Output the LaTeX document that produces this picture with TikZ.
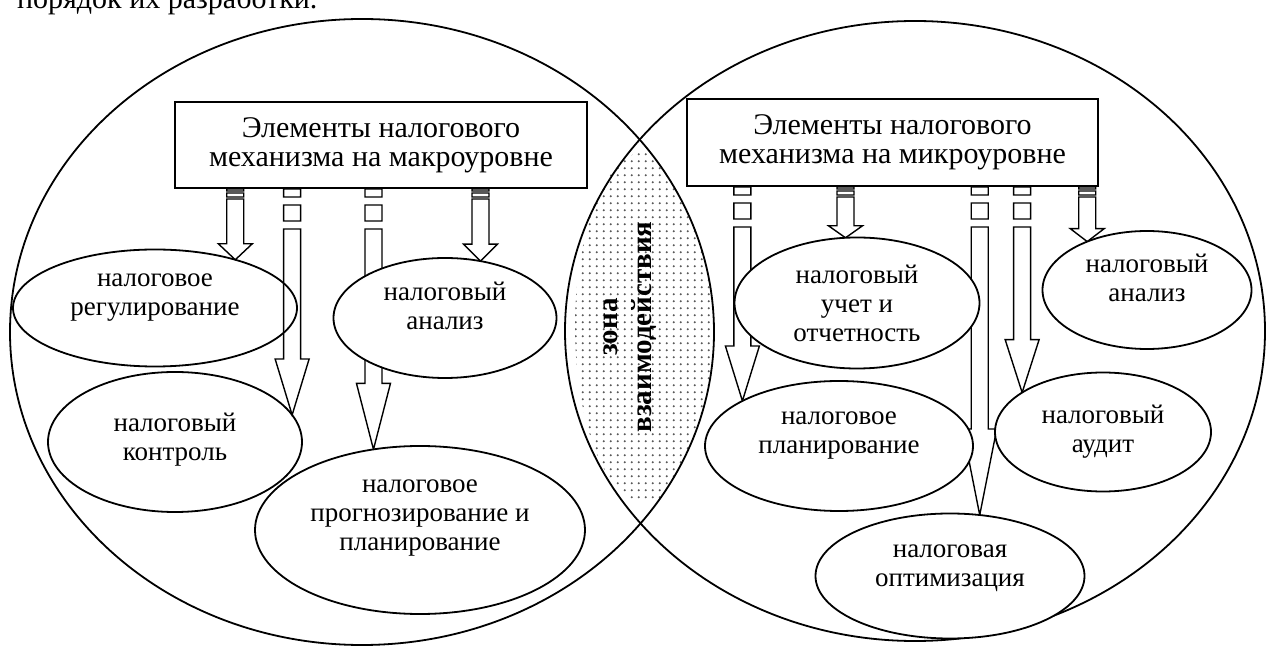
\documentclass[tikz,border=0pt]{standalone}
\usepackage{fontspec}
\setmainfont{Liberation Serif}
\usetikzlibrary{shapes.geometric,patterns,calc}

\pgfdeclarelayer{low}
\pgfdeclarelayer{mid}
\pgfsetlayers{low,mid,main}

% grey dots for the zone of interaction
\pgfdeclarepatternformonly{zonedots}{\pgfqpoint{0pt}{0pt}}{\pgfqpoint{3.5pt}{3.5pt}}{\pgfqpoint{3.5pt}{3.5pt}}{%
  \pgfpathcircle{\pgfqpoint{1pt}{1pt}}{0.7pt}\pgfusepath{fill}}

% block arrow with two stripes at its tail, from a box down to a point on an ellipse
\newcommand{\stripedarrow}[4]{%
  \draw[a] let \p1=(#1.south), \p2=(#2) in
    ({\x2-4.25pt},{\y1}) rectangle ({\x2+4.25pt},{\y1-#4*4pt})
    ({\x2-4.25pt},{\y1-#4*8pt}) rectangle ({\x2+4.25pt},{\y1-#4*16pt})
    ({\x2-4.25pt},{\y1-#4*20pt}) -- ({\x2-4.25pt},{\y2+#3}) -- ({\x2-8.5pt},{\y2+#3})
    -- (\p2) -- ({\x2+8.5pt},{\y2+#3}) -- ({\x2+4.25pt},{\y2+#3})
    -- ({\x2+4.25pt},{\y1-#4*20pt}) -- cycle;
}

\begin{document}
\begin{tikzpicture}[x=0.5pt,y=-0.5pt,font=\fontsize{13.5}{14.5}\selectfont]
	\tikzstyle{e}=[ellipse, draw, fill=white, line width=0.9pt, inner sep=0pt, outer sep=0pt]
	\tikzstyle{t}=[align=center, inner sep=0pt]
	\tikzstyle{b}=[rectangle, draw, fill=white, line width=1pt, align=center, font=\fontsize{15}{14.5}\selectfont]
	\tikzstyle{a}=[draw, line width=0.7pt, line join=miter]
	\tikzstyle{big}=[line width=0.9pt]

	\useasboundingbox (0,0) rectangle (1270,646);

	\node[anchor=base west, font=\fontsize{15}{16}\selectfont] (intro) at (10,9) {порядок их разработки.};

	\begin{pgfonlayer}{low}
		% zone of interaction
		\begin{scope}
			\clip (362,332) ellipse [x radius=352, y radius=313];
			\fill[pattern=zonedots, pattern color=black!65] (645,327) ellipse [x radius=70, y radius=175];
		\end{scope}
		\draw[big] (362,332) ellipse [x radius=352, y radius=313];
		\draw[big] (915,331) ellipse [x radius=350, y radius=310];
		\node[t, rotate=90, font=\bfseries\fontsize{14.5}{17}\selectfont] (zona) at (630,327) {зона\\взаимодействия};

		\node[e, minimum width=142pt, minimum height=58.5pt] (regul) at (155,308) {};
		\node[t] (regul-t) at ([yshift=5pt]regul) {налоговое\\регулирование};
		\node[e, minimum width=127pt, minimum height=70pt] (kontrol) at (175,442) {};
		\node[t] (kontrol-t) at ([yshift=1pt]kontrol) {налоговый\\контроль};
	\end{pgfonlayer}

	\node[b, minimum width=206pt, minimum height=43pt] (makro) at (381,145) {Элементы налогового\\механизма на макроуровне};
	\node[b, minimum width=205.5pt, minimum height=43.5pt] (mikro) at (892.5,142.5) {Элементы налогового\\механизма на микроуровне};

	\node[e, minimum width=111.5pt, minimum height=60pt] (analiz) at (445,318) {};
	\node[t] (analiz-t) at ([yshift=6pt]analiz) {налоговый\\анализ};
	\node[e, minimum width=165pt, minimum height=84pt] (prognoz) at (420,530) {};
	\node[t] (prognoz-t) at ([yshift=5.75pt]prognoz) {налоговое\\прогнозирование и\\планирование};

	\node[e, minimum width=122.5pt, minimum height=65.5pt] (uchet) at (857,303) {};
	\node[t] (uchet-t) at (uchet) {налоговый\\учет и\\отчетность};
	\node[e, minimum width=134pt, minimum height=65pt] (plan) at (839,446) {};
	\node[t] (plan-t) at ([yshift=5pt]plan) {налоговое\\планирование};
	\node[e, minimum width=134.5pt, minimum height=62.5pt] (optim) at (950,576) {};
	\node[t] (optim-t) at ([yshift=4pt]optim) {налоговая\\оптимизация};
	\node[e, minimum width=108pt, minimum height=59.5pt] (audit) at (1103,432) {};
	\node[t] (audit-t) at (audit) {налоговый\\аудит};
	\node[e, minimum width=104.5pt, minimum height=59pt] (analizm) at (1147,290) {};
	\node[t] (analizm-t) at ([yshift=6pt]analizm) {налоговый\\анализ};

	\begin{pgfonlayer}{mid}
		\foreach \bx/\tp/\hl/\sc in {makro/regul.31/8pt/0.25, makro/kontrol.13/28pt/1,
				makro/prognoz.120/33pt/1, makro/analiz.58/8.5pt/0.25,
				mikro/plan.155/27.5pt/1, mikro/uchet.100/6pt/0.25, mikro/optim.64/43pt/1,
				mikro/audit.154/26.5pt/1, mikro/analizm.141/6.5pt/0.25}
			\stripedarrow{\bx}{\tp}{\hl}{\sc};
	\end{pgfonlayer}
\end{tikzpicture}
\end{document}
